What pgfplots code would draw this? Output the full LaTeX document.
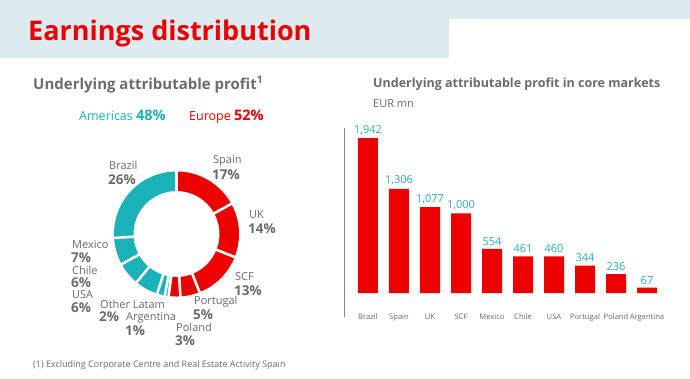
\documentclass[border=0pt]{standalone}
\usepackage{fontspec}
\setmainfont{Open Sans}
\usepackage{pgfplots}
\pgfplotsset{compat=1.18}
\usepgfplotslibrary{polar}
\definecolor{bgblue}{HTML}{DDEBF1}
\definecolor{sred}{HTML}{EC0000}
\definecolor{steal}{HTML}{1BB2B9}
\definecolor{tealtxt}{HTML}{2AAFB5}
\definecolor{sgrey}{HTML}{6B6B6B}
\newcommand{\fs}[1]{\fontsize{#1}{#1}\selectfont}
\begin{document}
\begin{tikzpicture}
\fill[white] (0,0) rectangle (690pt,-378pt);
\fill[bgblue] (0,0) rectangle (690pt,-58pt);
\fill[white] (449pt,-19pt) rectangle (690pt,-58pt);
\node[anchor=base west, inner sep=0, text=sred, font=\fs{27}\bfseries] at (28pt,-40pt) {Earnings distribution};
\node[anchor=base west, inner sep=0, text=sgrey, font=\fs{15}\bfseries] at (33pt,-89pt) {Underlying attributable profit\textsuperscript{1}};
\node[anchor=base west, inner sep=0, text=steal, font=\fs{12.5}] at (79pt,-120pt) {Americas {\fs{14.5}\bfseries 48\%}};
\node[anchor=base west, inner sep=0, text=sred, font=\fs{12.5}] at (189pt,-120pt) {Europe {\fs{14.5}\bfseries 52\%}};
\node[anchor=base west, inner sep=0, text=sgrey, font=\fs{12.5}\bfseries] at (373pt,-87pt) {Underlying attributable profit in core markets};
\node[anchor=base west, inner sep=0, text=sgrey, font=\fs{11}] at (373pt,-107pt) {EUR mn};
\node[anchor=base west, inner sep=0, text=sgrey, font=\fs{9}] at (33pt,-367pt) {(1) Excluding Corporate Centre and Real Estate Activity Spain};

% donut
\begin{polaraxis}[at={(176.5pt,-234pt)}, anchor=center, width=125pt, height=125pt, scale only axis, hide axis, ymin=0, ymax=62.5, clip=false]
\addplot[draw=sred, line width=19.5pt, line cap=butt, domain=28.8:90, samples=40] {52.75};
\addplot[draw=sred, line width=19.5pt, line cap=butt, domain=-21.6:28.8, samples=40] {52.75};
\addplot[draw=sred, line width=19.5pt, line cap=butt, domain=-68.4:-21.6, samples=40] {52.75};
\addplot[draw=sred, line width=19.5pt, line cap=butt, domain=-86.4:-68.4, samples=20] {52.75};
\addplot[draw=sred, line width=19.5pt, line cap=butt, domain=-97.2:-86.4, samples=12] {52.75};
\addplot[draw=steal, line width=19.5pt, line cap=butt, domain=-100.8:-97.2, samples=6] {52.75};
\addplot[draw=steal, line width=19.5pt, line cap=butt, domain=-108:-100.8, samples=8] {52.75};
\addplot[draw=steal, line width=19.5pt, line cap=butt, domain=-129.6:-108, samples=20] {52.75};
\addplot[draw=steal, line width=19.5pt, line cap=butt, domain=-151.2:-129.6, samples=20] {52.75};
\addplot[draw=steal, line width=19.5pt, line cap=butt, domain=-176.4:-151.2, samples=20] {52.75};
\addplot[draw=steal, line width=19.5pt, line cap=butt, domain=-270:-176.4, samples=60] {52.75};
\foreach \a in {90,28.8,-21.6,-68.4,-86.4,-97.2,-100.8,-108,-129.6,-151.2,-176.4}{
  \addplot[draw=white, line width=2.6pt] coordinates {(\a,40) (\a,66)};
}
\end{polaraxis}

% donut labels
\tikzset{nm/.style={anchor=west, inner sep=0, text=sgrey, font=\fs{11}}, pc/.style={anchor=west, inner sep=0, text=sgrey, font=\fs{13.5}\bfseries}}
\node[nm] at (109pt,-165pt) {Brazil};   \node[pc] at (108pt,-180pt) {26\%};
\node[nm] at (213pt,-161pt) {Spain};    \node[pc] at (212pt,-175pt) {17\%};
\node[nm] at (249pt,-215pt) {UK};       \node[pc] at (248pt,-229pt) {14\%};
\node[nm] at (235pt,-277pt) {SCF};      \node[pc] at (234pt,-291pt) {13\%};
\node[nm] at (194pt,-302pt) {Portugal}; \node[pc] at (193pt,-315pt) {5\%};
\node[nm] at (176pt,-327pt) {Poland};   \node[pc] at (175pt,-341pt) {3\%};
\node[nm] at (126pt,-318pt) {Argentina};\node[pc] at (125pt,-331pt) {1\%};
\node[nm] at (100pt,-304pt) {Other Latam};\node[pc] at (99pt,-317pt) {2\%};
\node[nm] at (72pt,-245pt) {Mexico};    \node[pc] at (71pt,-258pt) {7\%};
\node[nm] at (72pt,-270pt) {Chile};     \node[pc] at (71pt,-283pt) {6\%};
\node[nm] at (72pt,-295pt) {USA};       \node[pc] at (71pt,-308pt) {6\%};

% bar chart
\begin{axis}[at={(344pt,-317pt)}, anchor=south west, scale only axis,
  width=321.6pt, height=189.1pt,
  xmin=-0.774, xmax=9.6, ymin=-300, ymax=2070,
  axis lines*=left, axis line style={-}, x axis line style={draw=none},
  y axis line style={draw=sgrey!80, line width=0.6pt},
  ytick=\empty, xtick=data, major tick length=0pt,
  xticklabels={Brazil,Spain,UK,SCF,Mexico,Chile,USA,Portugal,Poland,Argentina},
  xticklabel style={anchor=base, yshift=-2pt, font=\fs{7.6}, text=sgrey},
  ybar, bar width=20pt,
  nodes near coords,
  nodes near coords style={font=\fs{11}, text=tealtxt, anchor=south, yshift=0pt},
  /pgf/number format/1000 sep={,},
  /pgf/number format/assume math mode=true,
  clip=false]
\addplot[fill=sred, draw=none] coordinates {(0,1942) (1,1306) (2,1077) (3,1000) (4,554) (5,461) (6,460) (7,344) (8,236) (9,67)};
\end{axis}
\pgfresetboundingbox
\useasboundingbox (0,0) rectangle (690pt,-378pt);
\end{tikzpicture}
\end{document}
